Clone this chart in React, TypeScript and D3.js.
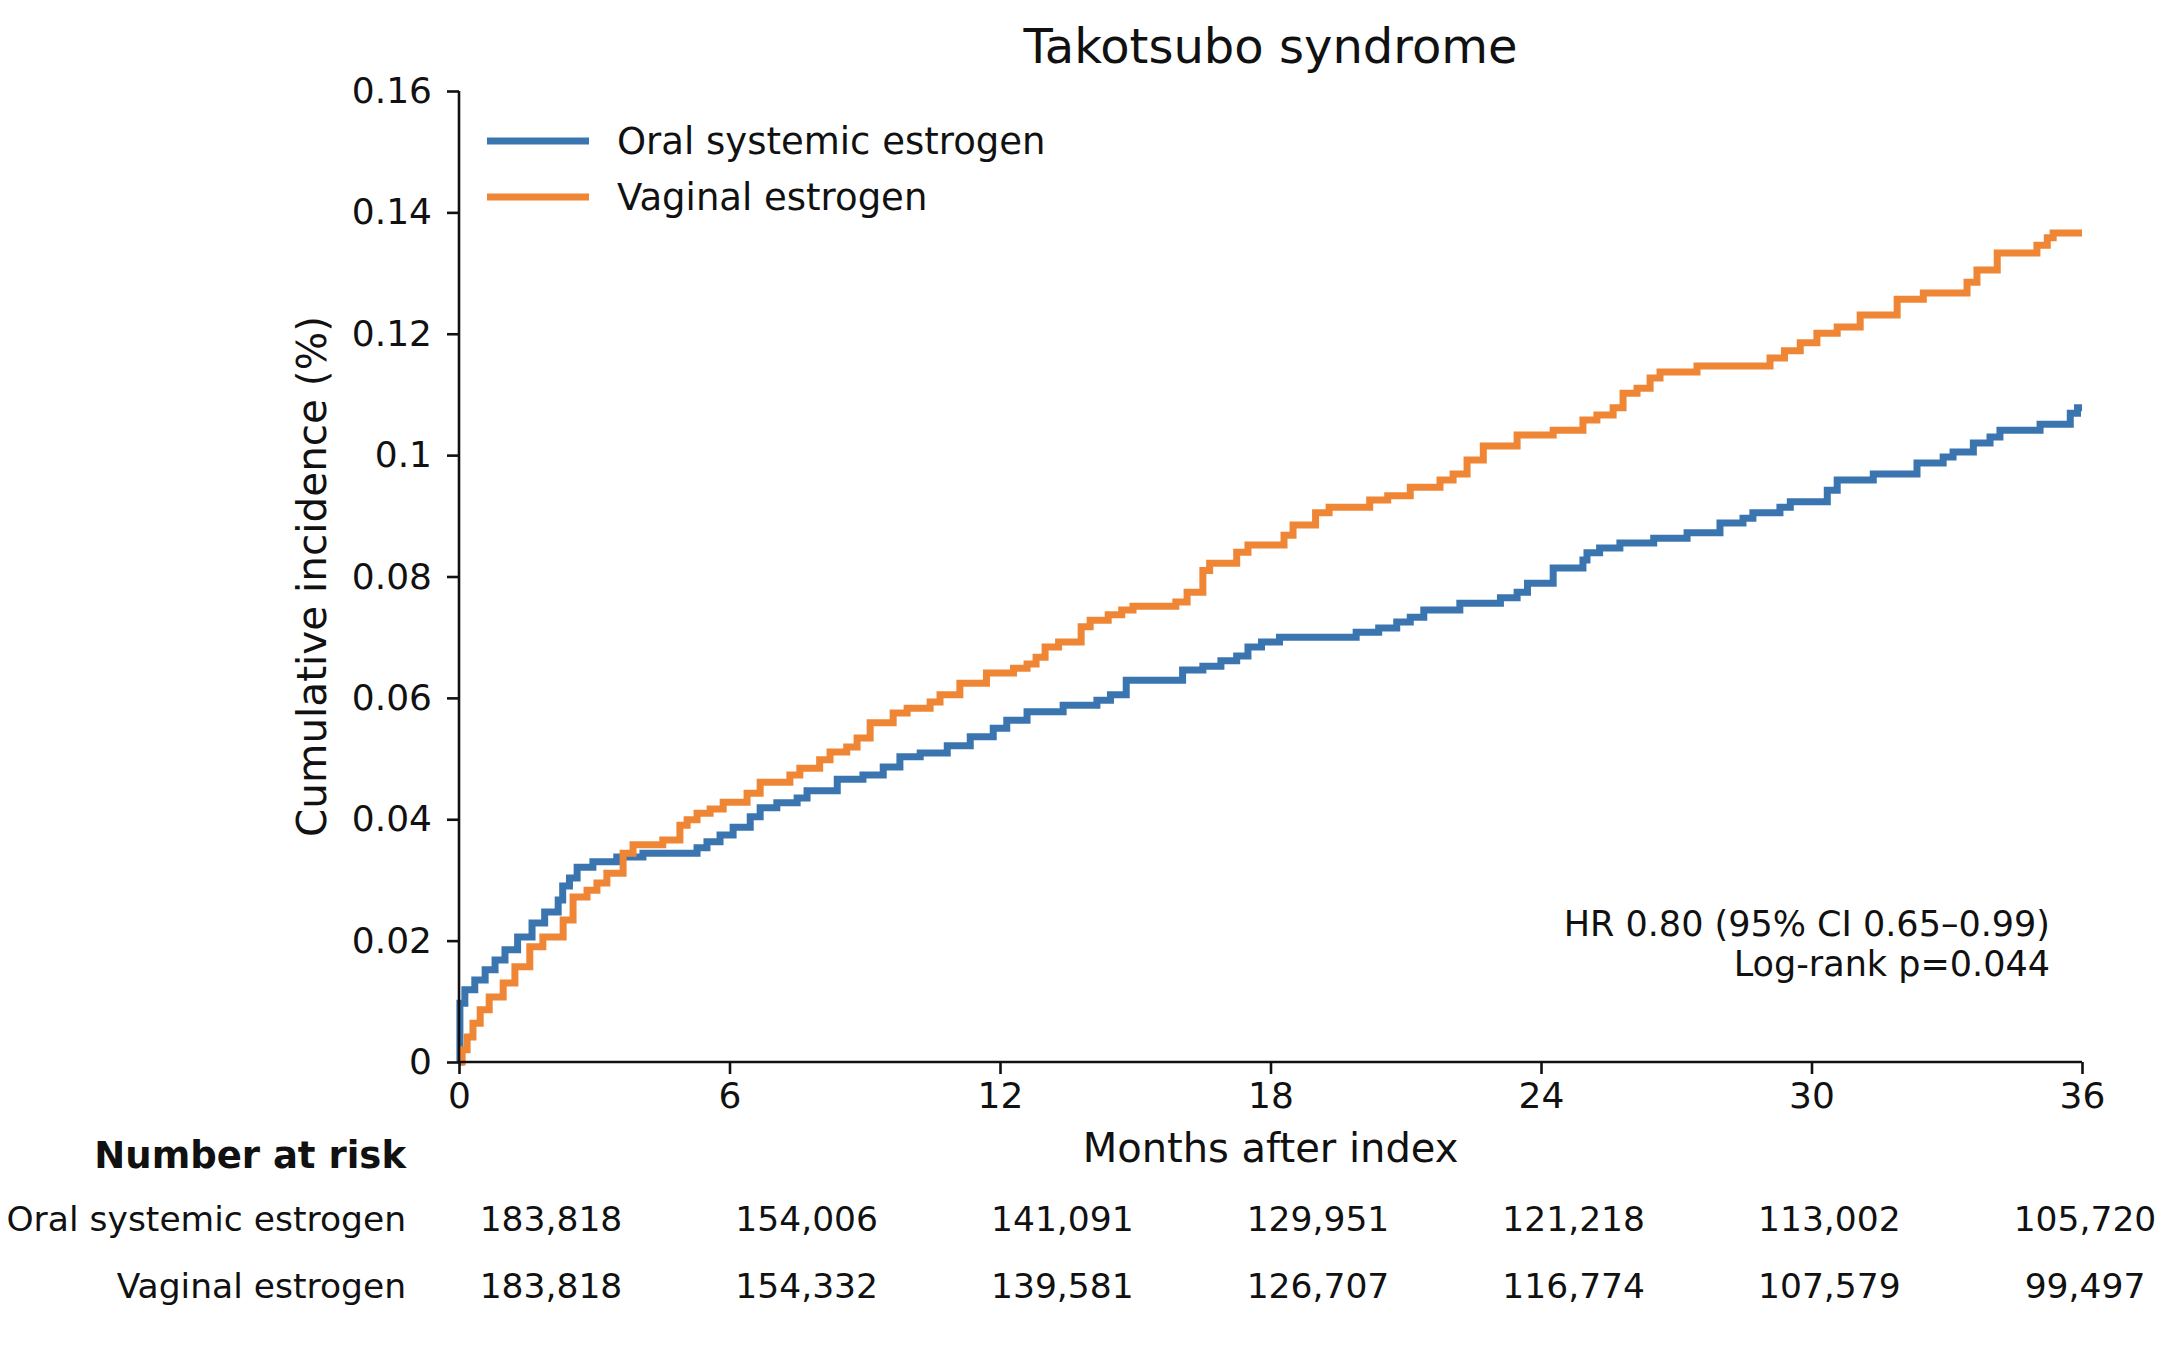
import React, { useEffect, useRef } from 'react';
import * as d3 from 'd3';

const width = 2176;
const height = 1358;

// months after index, cumulative incidence (%)
const oralMonths = [0, 0.02, 0.13, 0.35, 0.58, 0.8, 1.02, 1.3, 1.62, 1.9, 2.2, 2.3, 2.45, 2.62, 2.97, 3.5, 4.08, 5.28, 5.5, 5.79, 6.08, 6.46, 6.68, 7.05, 7.5, 7.72, 8.39, 8.96, 9.41, 9.78, 10.23, 10.83, 11.34, 11.85, 12.15, 12.6, 13.4, 14.15, 14.45, 14.8, 16.05, 16.5, 16.9, 17.25, 17.5, 17.8, 18.2, 19.9, 20.4, 20.8, 21.1, 21.4, 22.2, 23.1, 23.47, 23.7, 24.27, 24.93, 25.02, 25.3, 25.75, 26.5, 27.24, 27.97, 28.48, 28.7, 29.3, 29.53, 30.35, 30.57, 31.37, 32.34, 32.92, 33.14, 33.59, 33.96, 34.18, 35.07, 35.74, 35.9, 36];
const oralValues = [0, 0.0097, 0.0119, 0.0135, 0.0152, 0.0168, 0.0185, 0.0206, 0.0229, 0.0247, 0.0267, 0.029, 0.0303, 0.0321, 0.033, 0.0338, 0.0344, 0.0353, 0.0363, 0.0374, 0.0387, 0.0404, 0.0419, 0.0427, 0.0435, 0.0447, 0.0466, 0.0473, 0.0486, 0.0503, 0.0509, 0.0521, 0.0536, 0.055, 0.0563, 0.0577, 0.0588, 0.0596, 0.0605, 0.0629, 0.0646, 0.0652, 0.0661, 0.0669, 0.0684, 0.0692, 0.07, 0.0708, 0.0715, 0.0725, 0.0733, 0.0745, 0.0756, 0.0765, 0.0774, 0.0789, 0.0814, 0.0827, 0.0839, 0.0847, 0.0855, 0.0863, 0.0872, 0.0888, 0.0896, 0.0905, 0.0914, 0.0923, 0.0942, 0.0959, 0.0969, 0.0987, 0.0997, 0.1005, 0.102, 0.103, 0.1041, 0.1051, 0.1069, 0.1078, 0.1078];

const vaginalMonths = [0, 0.07, 0.18, 0.31, 0.47, 0.67, 0.98, 1.24, 1.57, 1.86, 2.31, 2.53, 2.84, 3.06, 3.28, 3.64, 3.86, 4.52, 4.9, 5.06, 5.28, 5.57, 5.86, 6.39, 6.68, 7.34, 7.56, 8.0, 8.23, 8.6, 8.83, 9.12, 9.63, 9.94, 10.45, 10.67, 11.11, 11.7, 12.3, 12.6, 12.8, 13.0, 13.3, 13.8, 14.0, 14.4, 14.7, 14.95, 15.9, 16.15, 16.5, 16.65, 17.25, 17.5, 18.3, 18.5, 19.0, 19.3, 20.2, 20.6, 21.1, 21.76, 22.05, 22.36, 22.72, 23.47, 24.27, 24.93, 25.24, 25.6, 25.82, 26.13, 26.42, 26.64, 27.46, 29.08, 29.4, 29.75, 30.12, 30.57, 31.08, 31.9, 32.48, 33.45, 33.67, 34.12, 35.0, 35.23, 35.36, 36];
const vaginalValues = [0, 0.002, 0.0041, 0.0064, 0.0086, 0.0107, 0.013, 0.0157, 0.019, 0.0206, 0.0234, 0.0272, 0.0283, 0.0295, 0.0311, 0.0344, 0.0358, 0.0366, 0.039, 0.0399, 0.041, 0.0417, 0.0428, 0.0443, 0.0461, 0.0473, 0.0484, 0.0498, 0.0511, 0.0519, 0.0534, 0.0559, 0.0575, 0.0583, 0.0593, 0.0605, 0.0624, 0.0641, 0.0649, 0.0656, 0.0667, 0.0684, 0.0692, 0.0717, 0.0728, 0.0737, 0.0745, 0.0751, 0.0758, 0.0774, 0.081, 0.0822, 0.084, 0.0852, 0.0868, 0.0885, 0.0905, 0.0914, 0.0926, 0.0933, 0.0947, 0.0959, 0.0969, 0.0992, 0.1015, 0.1033, 0.1041, 0.1058, 0.1066, 0.1078, 0.1102, 0.111, 0.1127, 0.1137, 0.1147, 0.116, 0.1172, 0.1185, 0.1201, 0.1211, 0.1231, 0.1257, 0.1267, 0.1285, 0.1305, 0.1333, 0.1346, 0.1358, 0.1366, 0.1366];

const seriesNames = ['Oral systemic estrogen', 'Vaginal estrogen'];
const seriesColors = ['#3a75b0', '#ef8636'];

const xTicks = [0, 6, 12, 18, 24, 30, 36];
const yTicks = [0, 0.02, 0.04, 0.06, 0.08, 0.1, 0.12, 0.14, 0.16];
const yTickLabels = ['0', '0.02', '0.04', '0.06', '0.08', '0.1', '0.12', '0.14', '0.16'];

const oralAtRisk = ['183,818', '154,006', '141,091', '129,951', '121,218', '113,002', '105,720'];
const vaginalAtRisk = ['183,818', '154,332', '139,581', '126,707', '116,774', '107,579', '99,497'];

const statsLines = ['HR 0.80 (95% CI 0.65–0.99)', 'Log-rank p=0.044'];

const font = '"DejaVu Sans", Verdana, sans-serif';

const App: React.FC = () => {
  const svgRef = useRef<SVGSVGElement>(null);

  useEffect(() => {
    document.body.style.margin = '0';
    if (!svgRef.current) return;
    const svg = d3.select(svgRef.current);
    svg.selectAll('*').remove();

    const margin = { top: 91, right: 94, bottom: 296, left: 459 };
    const x = d3.scaleLinear().domain([0, 36]).range([margin.left, width - margin.right]);
    const y = d3.scaleLinear().domain([0, 0.16]).range([height - margin.bottom, margin.top]);

    // title
    svg
      .append('text')
      .attr('x', (x(0) + x(36)) / 2)
      .attr('y', 63)
      .attr('text-anchor', 'middle')
      .attr('font-size', 48)
      .attr('fill', '#111')
      .text('Takotsubo syndrome');

    // curves
    const line = d3
      .line<[number, number]>()
      .x((d) => x(d[0]))
      .y((d) => y(d[1]))
      .curve(d3.curveStepAfter);

    const series: [number, number][][] = [
      oralMonths.map((m, i) => [m, oralValues[i]]),
      vaginalMonths.map((m, i) => [m, vaginalValues[i]]),
    ];

    series.forEach((pts, i) => {
      svg
        .append('path')
        .attr('d', line(pts))
        .attr('fill', 'none')
        .attr('stroke', seriesColors[i])
        .attr('stroke-width', 7);
    });

    // axes
    const xAxis = svg
      .append('g')
      .attr('transform', `translate(0,${y(0)})`)
      .call(d3.axisBottom(x).tickValues(xTicks).tickSize(12).tickPadding(8).tickFormat(d3.format('d')));
    const yAxis = svg
      .append('g')
      .attr('transform', `translate(${x(0)},0)`)
      .call(
        d3
          .axisLeft(y)
          .tickValues(yTicks)
          .tickSize(12)
          .tickPadding(15)
          .tickFormat((_d, i) => yTickLabels[i])
      );
    [xAxis, yAxis].forEach((g) => {
      g.selectAll('path').attr('stroke', '#111').attr('stroke-width', 2.6);
      g.selectAll('line').attr('stroke', '#111').attr('stroke-width', 2.6);
      g.selectAll('text').attr('font-family', font).attr('font-size', 36).attr('fill', '#111');
    });
    xAxis.select('.domain').attr('d', `M${x(0)},0H${x(36)}`);
    yAxis.select('.domain').attr('d', `M0,${y(0)}V${y(0.16)}`);

    // axis labels
    svg
      .append('text')
      .attr('x', (x(0) + x(36)) / 2)
      .attr('y', 1162)
      .attr('text-anchor', 'middle')
      .attr('font-size', 40)
      .attr('fill', '#111')
      .text('Months after index');
    svg
      .append('text')
      .attr('transform', `translate(326,${(y(0) + y(0.16)) / 2}) rotate(-90)`)
      .attr('text-anchor', 'middle')
      .attr('font-size', 40.5)
      .attr('fill', '#111')
      .text('Cumulative incidence (%)');

    // legend
    seriesNames.forEach((name, i) => {
      const ly = 141 + i * 56;
      svg
        .append('line')
        .attr('x1', 487)
        .attr('x2', 589)
        .attr('y1', ly)
        .attr('y2', ly)
        .attr('stroke', seriesColors[i])
        .attr('stroke-width', 7);
      svg
        .append('text')
        .attr('x', 617)
        .attr('y', ly)
        .attr('dy', '0.35em')
        .attr('font-size', 37)
        .attr('fill', '#111')
        .text(name);
    });

    // stats
    statsLines.forEach((s, i) => {
      svg
        .append('text')
        .attr('x', 2050)
        .attr('y', 924 + i * 40)
        .attr('dy', '0.35em')
        .attr('text-anchor', 'end')
        .attr('font-size', 35)
        .attr('fill', '#111')
        .text(s);
    });

    // number at risk table
    const col = d3.scalePoint<number>().domain(xTicks).range([551, 2085]);
    svg
      .append('text')
      .attr('x', 406)
      .attr('y', 1155)
      .attr('dy', '0.35em')
      .attr('text-anchor', 'end')
      .attr('font-size', 37)
      .attr('font-weight', 'bold')
      .attr('fill', '#111')
      .text('Number at risk');

    [oralAtRisk, vaginalAtRisk].forEach((row, r) => {
      const ry = 1219 + r * 67;
      svg
        .append('text')
        .attr('x', 406)
        .attr('y', ry)
        .attr('dy', '0.35em')
        .attr('text-anchor', 'end')
        .attr('font-size', 34.5)
        .attr('fill', '#111')
        .text(seriesNames[r]);
      svg
        .selectAll(null)
        .data(row)
        .join('text')
        .attr('x', (_d, i) => col(xTicks[i]) as number)
        .attr('y', ry)
        .attr('dy', '0.35em')
        .attr('text-anchor', 'middle')
        .attr('font-size', 34.5)
        .attr('fill', '#111')
        .text((d) => d);
    });
  }, []);

  return (
    <svg
      ref={svgRef}
      width={width}
      height={height}
      style={{ display: 'block', background: '#fff', fontFamily: font }}
    />
  );
};

export default App;
